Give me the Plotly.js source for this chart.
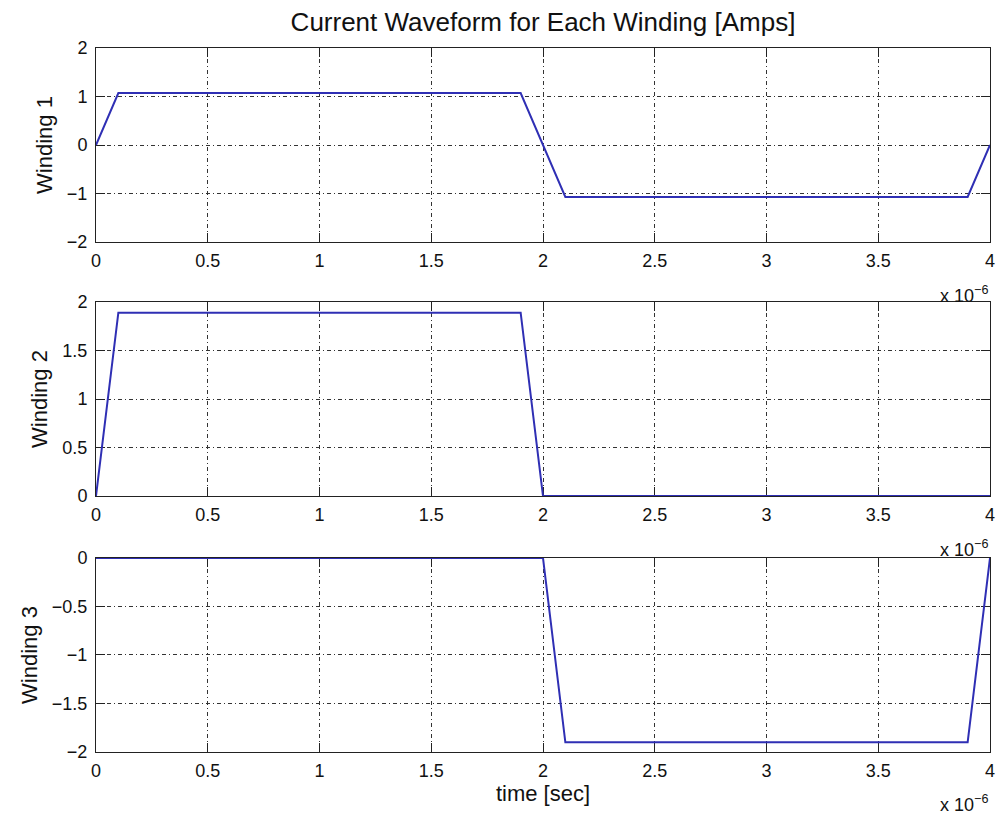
<!DOCTYPE html>
<html>
<head>
<meta charset="utf-8">
<script src="https://cdn.plot.ly/plotly-3.0.1.min.js"></script>
<style>html,body{margin:0;padding:0;background:#fff;}#chart{width:998px;height:815px;}</style>
</head>
<body>
<div id="chart"></div>
<script>
// time in units of 1e-6 s (axis shows "x 10^-6")
var time_us = [0, 0.1, 1.9, 2.0, 2.1, 3.9, 4.0];
var winding1 = [0, 1.07, 1.07, 0, -1.07, -1.07, 0];
var winding2 = [0, 1.89, 1.89, 0, 0, 0, 0];
var winding3 = [0, 0, 0, 0, -1.9, -1.9, 0];
var xTicks = [0, 0.5, 1, 1.5, 2, 2.5, 3, 3.5, 4];
var y1Ticks = [-2, -1, 0, 1, 2];
var y2Ticks = [0, 0.5, 1, 1.5, 2];
var y3Ticks = [-2, -1.5, -1, -0.5, 0];

var FONT = 'Liberation Sans, Arial, Helvetica, sans-serif';
var lineStyle = {color: '#2f2fb4', width: 2};

var traces = [
  {x: time_us, y: winding1, xaxis: 'x', yaxis: 'y', mode: 'lines', line: lineStyle, name: 'Winding 1'},
  {x: time_us, y: winding2, xaxis: 'x2', yaxis: 'y2', mode: 'lines', line: lineStyle, name: 'Winding 2'},
  {x: time_us, y: winding3, xaxis: 'x3', yaxis: 'y3', mode: 'lines', line: lineStyle, name: 'Winding 3'}
];

function xax(anchor, withTitle) {
  var a = {
    anchor: anchor, range: [0, 4], tickvals: xTicks, ticktext: xTicks.map(String),
    ticks: 'inside', ticklen: 9, tickcolor: '#222', tickwidth: 1,
    showline: true, linecolor: '#222', linewidth: 1, mirror: 'ticks',
    showgrid: true, gridcolor: '#333', gridwidth: 1, griddash: '4px,3px,1px,3px',
    zeroline: false, layer: 'below traces',
    tickfont: {family: FONT, size: 18, color: '#111'}, ticklabelstandoff: 2
  };
  if (withTitle) a.title = {text: 'time [sec]', font: {family: FONT, size: 22, color: '#111'}, standoff: 4};
  return a;
}
function yax(anchor, domain, range, ticks, title) {
  return {
    anchor: anchor, domain: domain, range: range, tickvals: ticks,
    ticks: 'inside', ticklen: 9, tickcolor: '#222', tickwidth: 1,
    showline: true, linecolor: '#222', linewidth: 1, mirror: 'ticks',
    showgrid: true, gridcolor: '#333', gridwidth: 1, griddash: '4px,3px,1px,3px',
    zeroline: false, layer: 'below traces',
    tickfont: {family: FONT, size: 18, color: '#111'}, ticklabelstandoff: 4,
    title: {text: title, font: {family: FONT, size: 22, color: '#111'}, standoff: 8}
  };
}

function expo(xr, yr) {
  return {xref: xr, yref: yr, x: 1, y: -0.268, xanchor: 'right', yanchor: 'middle',
    showarrow: false, text: 'x 10<sup>\u22126</sup>', font: {family: FONT, size: 18, color: '#111'}};
}

var layout = {
  width: 998, height: 815,
  margin: {l: 96, r: 8, t: 48, b: 63},
  paper_bgcolor: '#fff', plot_bgcolor: '#fff',
  showlegend: false,
  title: {text: 'Current Waveform for Each Winding [Amps]', font: {family: FONT, size: 26, color: '#111'},
    x: 0.5, xref: 'paper', xanchor: 'center', y: 1 - 22/815, yref: 'container', yanchor: 'middle'},
  xaxis: xax('y', false),
  xaxis2: xax('y2', false),
  xaxis3: xax('y3', true),
  yaxis: yax('x', [0.7244, 1], [-2, 2], y1Ticks, 'Winding 1'),
  yaxis2: yax('x2', [0.3636, 0.6392], [0, 2], y2Ticks, 'Winding 2'),
  yaxis3: yax('x3', [0, 0.2756], [-2, 0], y3Ticks, 'Winding 3'),
  annotations: [expo('x domain', 'y domain'), expo('x2 domain', 'y2 domain'), expo('x3 domain', 'y3 domain')]
};

Plotly.newPlot('chart', traces, layout, {displayModeBar: false, staticPlot: true});
</script>
</body>
</html>
